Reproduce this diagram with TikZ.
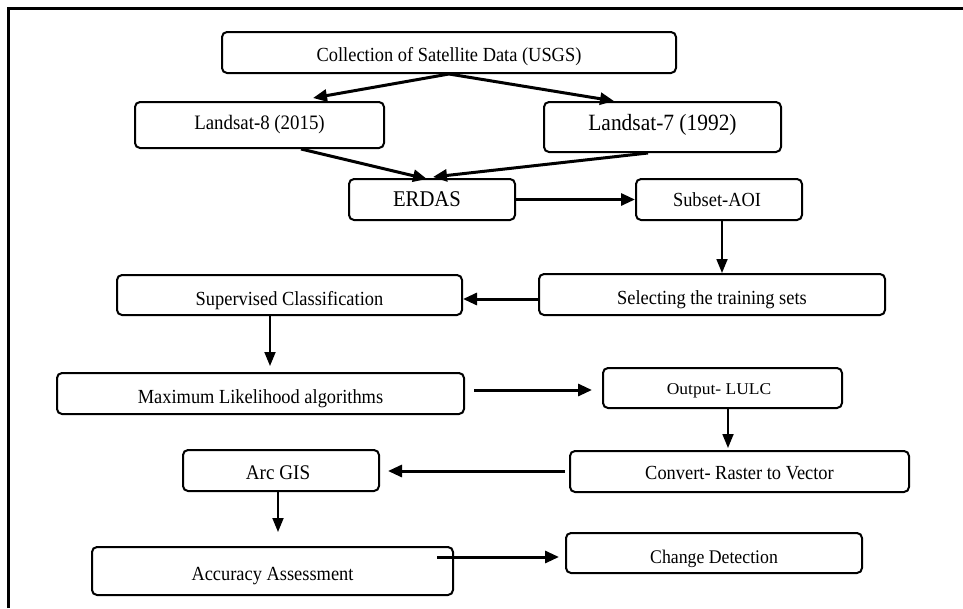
\documentclass[tikz,border=0pt]{standalone}
\usepackage{fontspec}
\setmainfont{Liberation Serif}[FakeStretch=0.92]
\newfontfamily\widefont{Liberation Serif}[FakeStretch=1.06]
\usetikzlibrary{arrows.meta}
\tikzset{
  box/.style={draw, line width=2pt, rounded corners=5pt, inner sep=0pt,
    text height=15pt, text depth=1.8pt, align=center,
    font=\fontsize{20}{24}\selectfont},
  arr/.style={-{Triangle[length=14pt,width=12pt]}, line width=3pt},
  thinarr/.style={-{Triangle[length=14pt,width=11pt]}, line width=1.8pt},
  frame/.style={line width=3pt}
}
\begin{document}
\begin{tikzpicture}[x=1pt,y=-1pt]
\useasboundingbox (0,0) rectangle (963,608);
\draw[frame] (8.5,608) -- (8.5,8.5) -- (963,8.5);

\node[box, minimum width=454pt, minimum height=41pt] (coll) at (449,52.5)
  {\raisebox{-2pt}{Collection of Satellite Data (USGS)}};
\node[box, minimum width=249pt, minimum height=46pt, font=\fontsize{20.5}{24}\selectfont] (l8) at (259.5,125)
  {\raisebox{2pt}{Landsat-8 (2015)}};
\node[box, minimum width=237pt, minimum height=50pt, font=\fontsize{23.3}{27}\selectfont] (l7) at (662.5,127)
  {\raisebox{3pt}{Landsat-7 (1992)}};
\node[box, minimum width=166pt, minimum height=41pt, font=\fontsize{22.5}{26}\selectfont] (erdas) at (432,199.5)
  {\hspace*{-10pt}ERDAS};
\node[box, minimum width=166pt, minimum height=41pt] (subset) at (719,199.5)
  {\hspace*{-4pt}Subset-AOI};
\node[box, minimum width=346pt, minimum height=41pt] (select) at (712,294.5)
  {\raisebox{-3.5pt}{Selecting the training sets}};
\node[box, minimum width=345pt, minimum height=40pt] (superv) at (289.5,295)
  {\raisebox{-4pt}{Supervised Classification}};
\node[box, minimum width=407pt, minimum height=41pt] (maxl) at (260.5,393.5)
  {\raisebox{-3.5pt}{Maximum Likelihood algorithms}};
\node[box, minimum width=239pt, minimum height=40pt, font=\widefont\fontsize{16.5}{20}\selectfont] (output) at (722.5,388)
  {\hspace*{-7pt}Output- LULC};
\node[box, minimum width=339pt, minimum height=41pt] (convert) at (739.5,471.5)
  {\raisebox{-1.5pt}{Convert- Raster to Vector}};
\node[box, minimum width=196pt, minimum height=41pt, font=\fontsize{20.8}{24}\selectfont] (arc) at (281,470.5)
  {\hspace*{-6pt}\raisebox{-2.5pt}{Arc GIS}};
\node[box, minimum width=361pt, minimum height=48pt] (acc) at (272.5,571)
  {\raisebox{-3pt}{Accuracy Assessment}};
\node[box, minimum width=296pt, minimum height=40pt, font=\fontsize{19.3}{23}\selectfont] (change) at (714,553)
  {\raisebox{-4pt}{Change Detection}};

\draw[arr] (coll.south) -- ([xshift=53.5pt,yshift=3pt]l8.north);
\draw[arr] (coll.south) -- ([xshift=-48.5pt]l7.north);
\draw[arr] ([xshift=41.5pt]l8.south) -- ([xshift=-5pt,yshift=-1pt]erdas.north);
\draw[arr] ([xshift=-14.5pt]l7.south) -- ([xshift=1pt,yshift=1pt]erdas.north);
\draw[arr] (erdas.east) -- (subset.west);
\draw[thinarr] ([xshift=3pt]subset.south) -- ([xshift=10pt]select.north);
\draw[arr] ([yshift=-4.5pt]select.west) -- ([yshift=-4pt]superv.east);
\draw[thinarr] ([xshift=-19.5pt]superv.south) -- ([xshift=9.5pt,yshift=6pt]maxl.north);
\draw[arr] ([xshift=9pt,yshift=3.5pt]maxl.east) -- ([xshift=-10pt,yshift=-2pt]output.west);
\draw[thinarr] ([xshift=5.5pt]output.south) -- ([xshift=-11.5pt,yshift=2pt]convert.north);
\draw[arr] ([xshift=-4pt,yshift=0.5pt]convert.west) -- ([xshift=8pt,yshift=-0.5pt]arc.east);
\draw[thinarr] ([xshift=-3pt]arc.south) -- ([xshift=5.5pt,yshift=14pt]acc.north);
\draw[arr] ([xshift=-17pt,yshift=14pt]acc.east) -- ([xshift=-6pt,yshift=-4pt]change.west);
\end{tikzpicture}
\end{document}
